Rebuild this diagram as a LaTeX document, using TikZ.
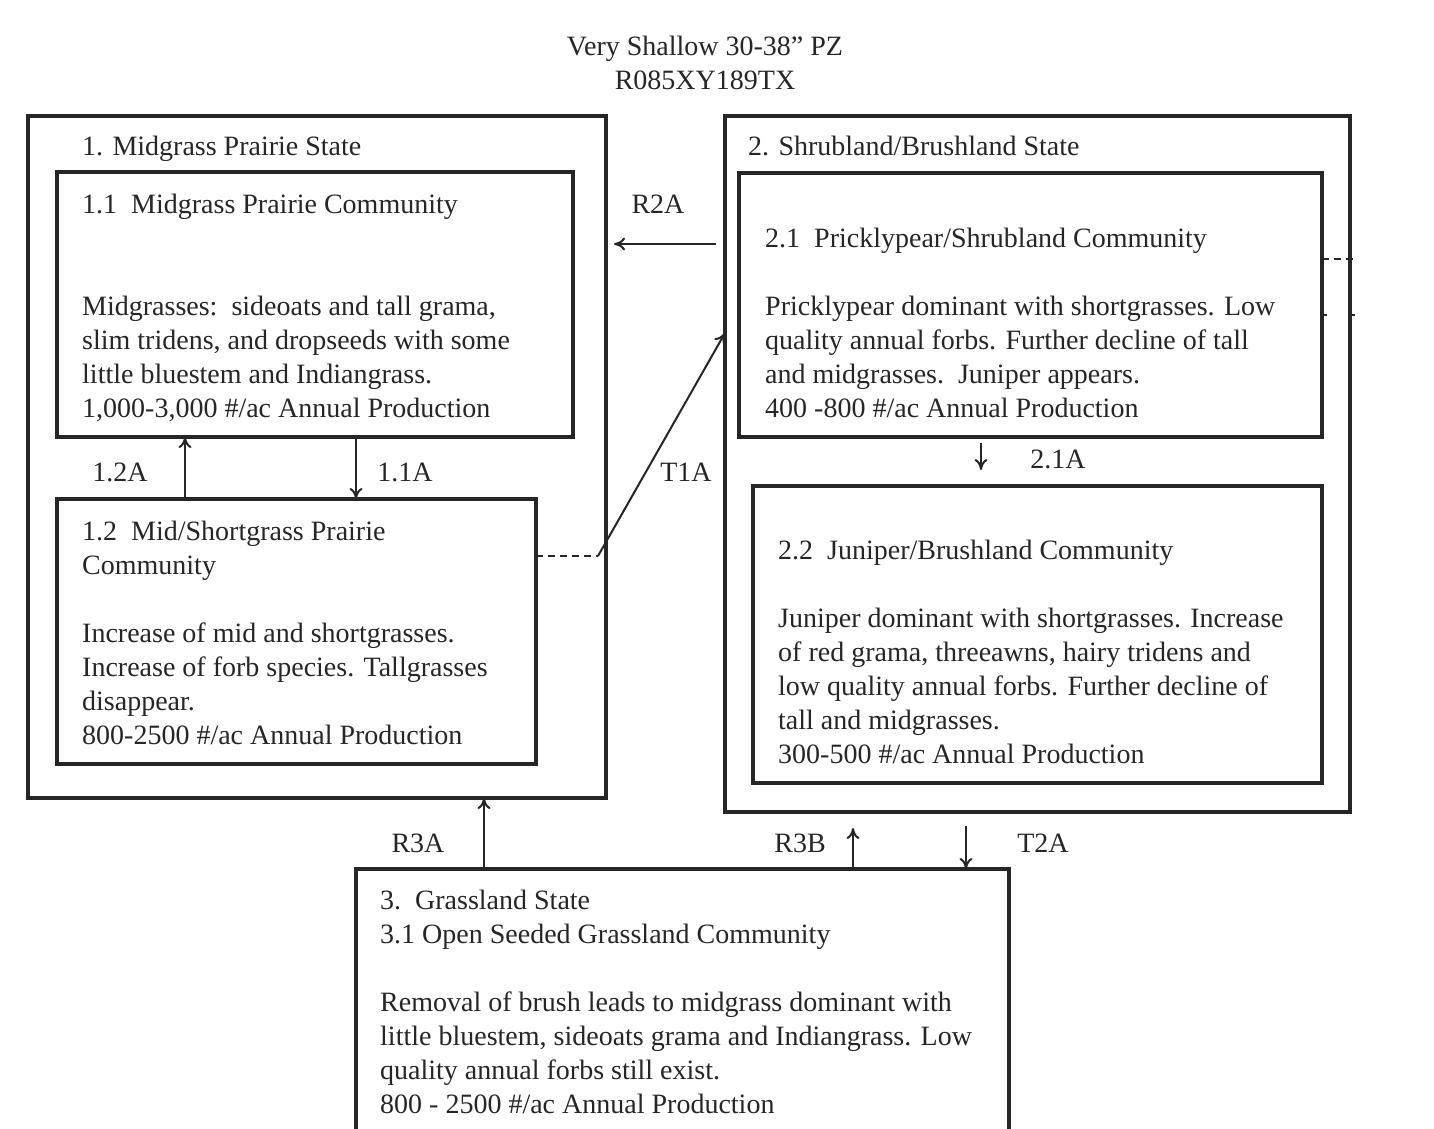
\documentclass[tikz,border=0pt]{standalone}
\usepackage{fontspec}
\setmainfont{Liberation Serif}
\usetikzlibrary{arrows.meta}
\definecolor{ink}{HTML}{262626}
\tikzset{
  box/.style={draw=ink, line width=3.2pt, inner sep=0pt, outer sep=0pt, anchor=north west},
  txt/.style={anchor=north west, inner sep=0pt, align=left, text=ink, font=\fontsize{28}{34}\selectfont},
  lbl/.style={inner sep=0pt, text=ink, font=\fontsize{28}{34}\selectfont},
  arr/.style={draw=ink, line width=2pt, -{To[length=11pt,width=13pt]}},
  dsh/.style={draw=ink, line width=1.8pt, dash pattern=on 7pt off 5pt},
}
\begin{document}
\begin{tikzpicture}[x=1pt,y=-1pt]
\useasboundingbox (0,0) rectangle (1434,1129);
\clip (0,0) rectangle (1434,1129);
% title
\node[lbl, align=center, anchor=north] (title) at (705,36) {Very Shallow 30-38” PZ\\R085XY189TX};
% state boxes
\node[box, minimum width=578pt, minimum height=682pt] (s1) at (28,116) {};
\node[box, minimum width=625pt, minimum height=696pt] (s2) at (725,116) {};
\node[box, minimum width=653pt, minimum height=300pt] (s3) at (356,869) {};
% community boxes
\node[box, minimum width=516pt, minimum height=265pt] (b11) at (57,172) {};
\node[box, minimum width=479pt, minimum height=265pt] (b12) at (57,499) {};
\node[box, minimum width=583pt, minimum height=264pt] (b21) at (739,173) {};
\node[box, minimum width=569pt, minimum height=297pt] (b22) at (753,486) {};
% texts
\node[txt] (s1t) at (82,136) {1. Midgrass Prairie State};
\node[txt] (s2t) at (748,136) {2. Shrubland/Brushland State};
\node[txt] (b11t) at (82,194) {1.1\enspace Midgrass Prairie Community\\[68pt]
Midgrasses:\ \ sideoats and tall grama,\\
slim tridens, and dropseeds with some\\
little bluestem and Indiangrass.\\
1,000-3,000 \#/ac Annual Production};
\node[txt] (b12t) at (82,521) {1.2\enspace Mid/Shortgrass Prairie\\
Community\\[34pt]
Increase of mid and shortgrasses.\\
Increase of forb species. Tallgrasses\\
disappear.\\
800-2500 \#/ac Annual Production};
\node[txt] (b21t) at (765,228) {2.1\enspace Pricklypear/Shrubland Community\\[34pt]
Pricklypear dominant with shortgrasses. Low\\
quality annual forbs. Further decline of tall\\
and midgrasses.\enspace Juniper appears.\\
400 -800 \#/ac Annual Production};
\node[txt] (b22t) at (778,540) {2.2\enspace Juniper/Brushland Community\\[34pt]
Juniper dominant with shortgrasses. Increase\\
of red grama, threeawns, hairy tridens and\\
low quality annual forbs. Further decline of\\
tall and midgrasses.\\
300-500 \#/ac Annual Production};
\node[txt] (s3t) at (380,890) {3.\enspace Grassland State\\
3.1 Open Seeded Grassland Community\\[34pt]
Removal of brush leads to midgrass dominant with\\
little bluestem, sideoats grama and Indiangrass. Low\\
quality annual forbs still exist.\\
800 - 2500 \#/ac Annual Production};
% transition labels
\node[lbl] (l12a) at (120,472) {1.2A};
\node[lbl] (l11a) at (405,472) {1.1A};
\node[lbl] (lt1a) at (686,472) {T1A};
\node[lbl] (lr2a) at (658,204) {R2A};
\node[lbl] (l21a) at (1058,459) {2.1A};
\node[lbl] (lr3a) at (418,843) {R3A};
\node[lbl] (lr3b) at (800,843) {R3B};
\node[lbl] (lt2a) at (1043,843) {T2A};
% arrows within state 1
\draw[arr] ([xshift=128pt]b12.north west) -- ([xshift=128pt]b11.south west);
\draw[arr] ([xshift=299pt]b11.south west) -- ([xshift=299pt]b12.north west);
% R2A
\coordinate (r2a0) at (716,244);
\coordinate (r2a1) at (614,244);
\draw[arr] (r2a0) -- (r2a1);
% T1A
\coordinate (t1a1) at (598,556);
\draw[dsh] ([yshift=75.5pt]b12.east) -- (t1a1);
\draw[arr] (t1a1) -- ([yshift=-217pt]s2.north west);
% 2.1A
\draw[arr] ([xshift=242pt,yshift=-6pt]b21.south west) -- ([xshift=228pt,yshift=16pt]b22.north west);
% R3A
\draw[arr] ([xshift=128pt]s3.north west) -- ([xshift=456pt]s1.south west);
% R3B
\draw[arr] ([xshift=497pt]s3.north west) -- ([xshift=128pt,yshift=-16pt]s2.south west);
% T2A
\draw[arr] ([xshift=241pt,yshift=-14pt]s2.south west) -- ([xshift=610pt]s3.north west);
% right-side dashed stub
\coordinate (rs1) at (1357,259);
\draw[dsh] ([yshift=-86pt]b21.north east) -- (rs1);
\coordinate (rt1) at (1327,315);
\coordinate (rt2) at (1355,315);
\draw[draw=ink, line width=2pt] ([yshift=-142pt]b21.north east) -- (rt1);
\draw[draw=ink, line width=2pt] ([yshift=-199pt]s2.north east) -- (rt2);
\end{tikzpicture}
\end{document}
